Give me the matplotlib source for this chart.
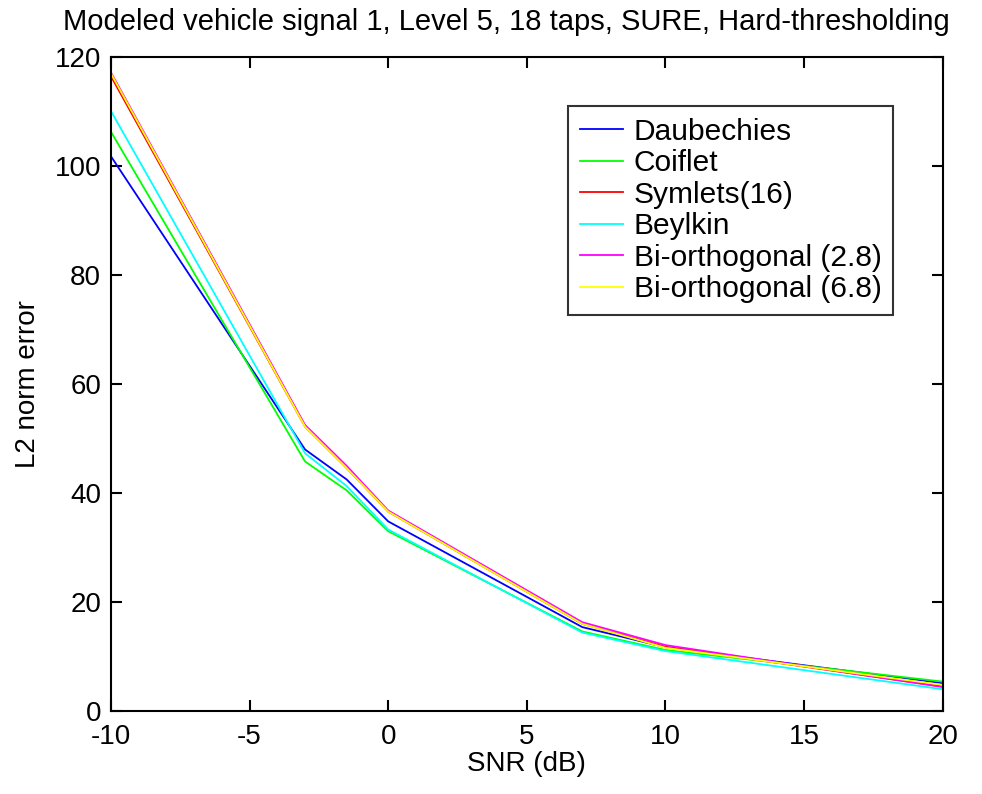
"""
L2 norm error vs SNR for several wavelet families
"""

import numpy as np
import matplotlib.pyplot as plt

# SNR values (dB)
snr = [-10, -3, -1.5, 0, 7, 10, 20]

# L2 norm error for each wavelet
daub   = [101.8, 48.0, 42.5, 34.8, 15.4, 11.7, 5.1]
coif   = [106.3, 45.8, 40.5, 33.0, 14.6, 11.2, 5.4]
sym16  = [116.5, 52.2, 44.6, 36.6, 16.0, 11.8, 4.5]
beyl   = [110.1, 47.3, 41.3, 33.3, 14.4, 11.0, 4.0]
bior28 = [117.2, 52.5, 45.0, 36.8, 16.3, 12.1, 4.4]
bior68 = [117.0, 52.2, 44.6, 36.6, 16.0, 11.6, 4.8]

names  = ['Daubechies', 'Coiflet', 'Symlets(16)', 'Beylkin',
          'Bi-orthogonal (2.8)', 'Bi-orthogonal (6.8)']
series = [daub, coif, sym16, beyl, bior28, bior68]
colors = ['#0000ff', '#00ff00', '#ff0000', '#00ffff', '#ff00ff', '#ffff00']

xticks = [-10, -5, 0, 5, 10, 15, 20]
yticks = [0, 20, 40, 60, 80, 100, 120]

plt.rcParams['font.family'] = ['Liberation Sans', 'DejaVu Sans']
plt.rcParams['axes.unicode_minus'] = False

fig = plt.figure(figsize=(9.82, 7.94), dpi=100)
ax = fig.add_axes([0.113, 0.1045, 0.847, 0.8235])

for s, c, n in zip(series, colors, names):
    ax.plot(snr, s, color=c, lw=1.3, label=n)

ax.set_xlim(-10, 20)
ax.set_ylim(0, 120)
ax.set_xticks(xticks)
ax.set_yticks(yticks)
ax.tick_params(direction='in', length=8, width=1.5, labelsize=20,
               top=True, right=True)
ax.tick_params(axis='x', pad=9)
ax.tick_params(axis='y', pad=7)
for sp in ax.spines.values():
    sp.set_linewidth(1.5)

ax.set_xlabel('SNR (dB)', fontsize=20, labelpad=1)
ax.set_ylabel('L2 norm error', fontsize=20, labelpad=10)
fig.text(0.516, 0.972,
         'Modeled vehicle signal 1, Level 5, 18 taps, SURE, Hard-thresholding',
         fontsize=21, ha='center', va='center')

leg = ax.legend(loc='upper right', bbox_to_anchor=(0.94, 0.925), fontsize=21.5,
                frameon=True, fancybox=False, edgecolor='black',
                handlelength=1.45, handletextpad=0.35, borderpad=0.38,
                labelspacing=0.12, borderaxespad=0)
leg.get_frame().set_linewidth(1.5)

fig.savefig('out.png', dpi=100)
